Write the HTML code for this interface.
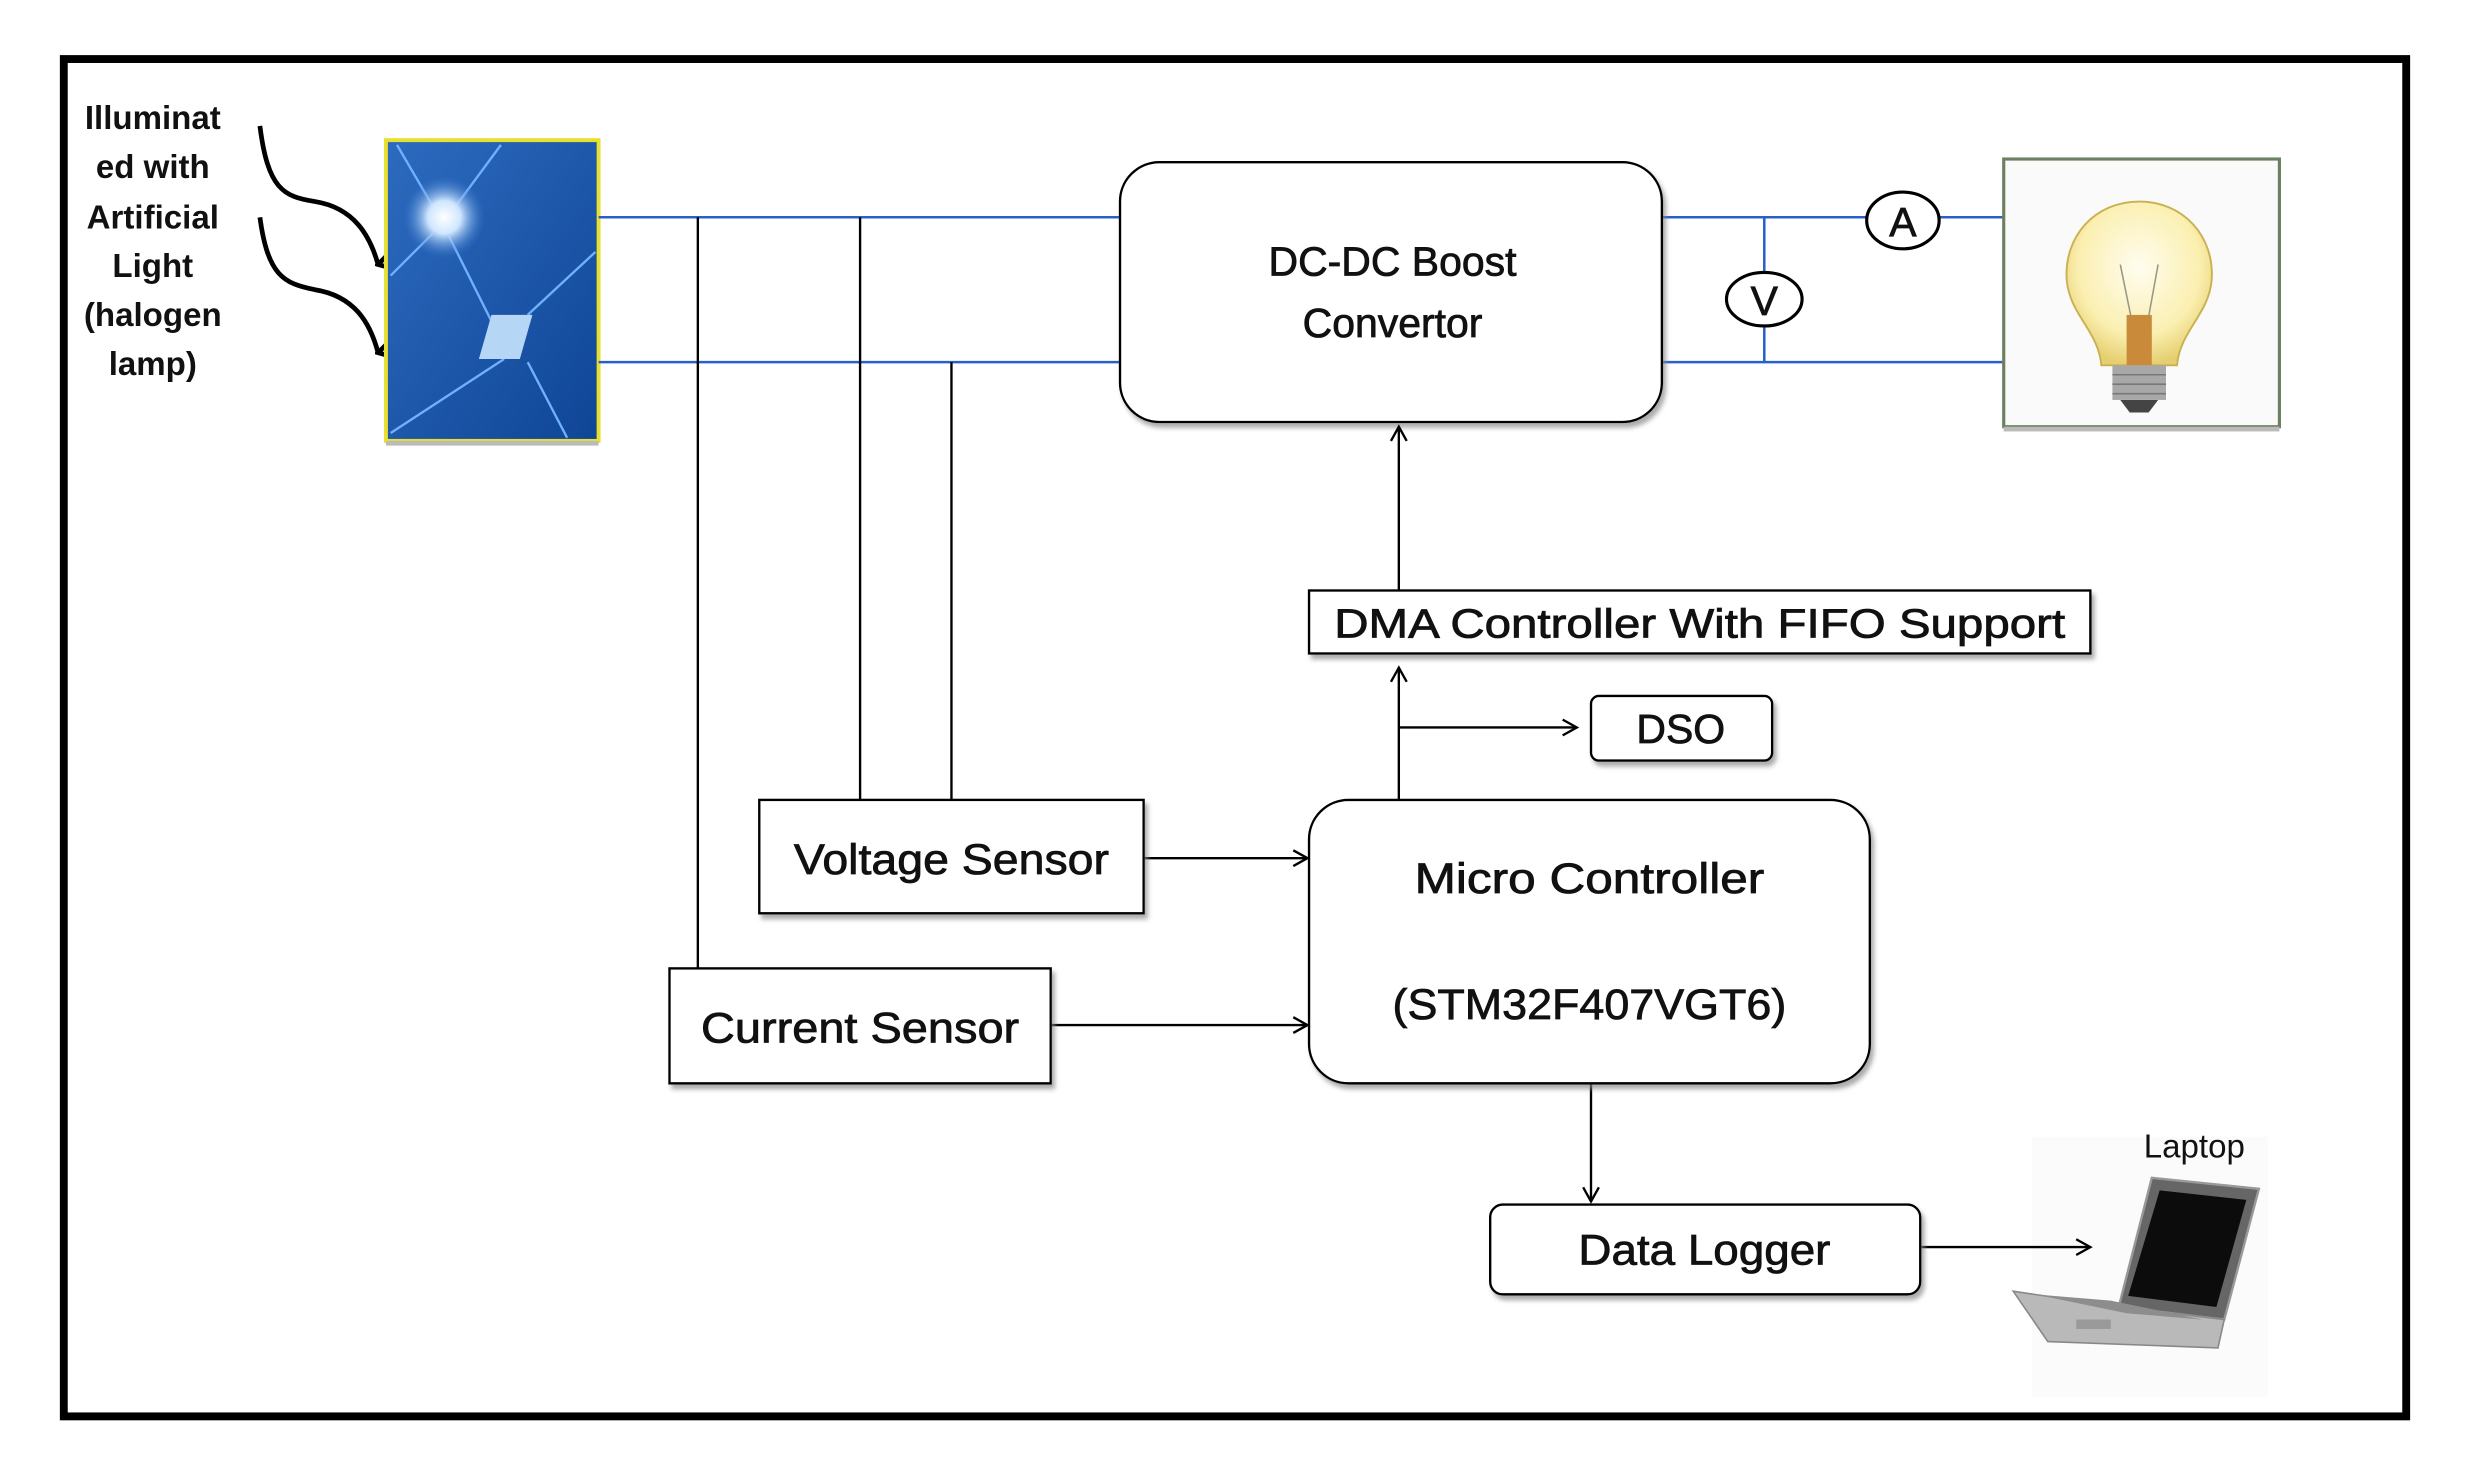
<!DOCTYPE html>
<html><head><meta charset="utf-8"><style>
html,body{margin:0;padding:0;background:#fff;}
svg{display:block;}
text{font-family:"Liberation Sans",sans-serif;fill:#111;}
.b{stroke:#111;stroke-width:0.5;}
</style></head><body>
<svg width="2470" height="1477" viewBox="0 0 1568 938" preserveAspectRatio="none" xmlns="http://www.w3.org/2000/svg">
<defs>
<marker id="ar" markerWidth="12" markerHeight="12" refX="10" refY="6" orient="auto" markerUnits="userSpaceOnUse">
<path d="M1,1 L10,6 L1,11" fill="none" stroke="#000" stroke-width="1.5"/>
</marker>
<marker id="ab" markerWidth="16" markerHeight="16" refX="8" refY="14" orient="auto" markerUnits="userSpaceOnUse">
<path d="M1,2 L8,14 L15,2" fill="none" stroke="#000" stroke-width="3"/>
</marker>
<linearGradient id="pv" x1="0" y1="0" x2="1" y2="1">
<stop offset="0" stop-color="#2d6bc0"/><stop offset="1" stop-color="#0f4595"/>
</linearGradient>
<radialGradient id="glow" cx="0.5" cy="0.5" r="0.5">
<stop offset="0" stop-color="#fff"/><stop offset="0.4" stop-color="#cfe6ff"/><stop offset="1" stop-color="#3f7fd0" stop-opacity="0"/>
</radialGradient>
<radialGradient id="bulb" cx="0.5" cy="0.4" r="0.6">
<stop offset="0" stop-color="#fffdf0"/><stop offset="0.7" stop-color="#fbefb0"/><stop offset="1" stop-color="#e6cf70"/>
</radialGradient>
<filter id="sh" x="-10%" y="-10%" width="130%" height="130%"><feDropShadow dx="2" dy="3" stdDeviation="1.5" flood-color="#888" flood-opacity="0.7"/></filter>
</defs>

<rect x="0" y="0" width="1568" height="938" fill="#fff"/>
<rect x="40.5" y="37.5" width="1487" height="862" fill="none" stroke="#000" stroke-width="5"/>

<g font-size="21" font-weight="bold" text-anchor="middle">
<text x="97" y="82">Illuminat</text>
<text x="97" y="113">ed with</text>
<text x="97" y="145">Artificial</text>
<text x="97" y="176">Light</text>
<text x="97" y="207">(halogen</text>
<text x="97" y="238">lamp)</text>
</g>
<path d="M165,80 C170,120 180,125 200,128 C225,132 235,150 240,168" fill="none" stroke="#000" stroke-width="3" marker-end="url(#ab)"/>
<path d="M165,138 C170,175 180,180 200,184 C225,188 235,205 240,224" fill="none" stroke="#000" stroke-width="3" marker-end="url(#ab)"/>

<rect x="245" y="89" width="135" height="191" fill="url(#pv)" stroke="#e8e030" stroke-width="2.5"/>
<rect x="245" y="280" width="135" height="3" fill="#bbb"/>
<g stroke="#6fb0ff" stroke-width="1.5" fill="none">
<line x1="252" y1="92" x2="280" y2="140"/><line x1="318" y1="92" x2="290" y2="130"/>
<line x1="248" y1="175" x2="275" y2="148"/><line x1="285" y1="150" x2="315" y2="210"/>
<line x1="335" y1="200" x2="378" y2="160"/><line x1="320" y1="228" x2="248" y2="275"/>
<line x1="335" y1="230" x2="360" y2="278"/>
</g>
<circle cx="282" cy="138" r="26" fill="url(#glow)"/>
<path d="M312,200 L338,200 L330,228 L304,228 Z" fill="#b6d6f5"/>

<g stroke="#2a5fc8" stroke-width="1.6">
<line x1="380" y1="138" x2="711" y2="138"/>
<line x1="380" y1="230" x2="711" y2="230"/>
<line x1="1055" y1="138" x2="1186" y2="138"/>
<line x1="1231" y1="138" x2="1272" y2="138"/>
<line x1="1055" y1="230" x2="1272" y2="230"/>
<line x1="1120" y1="138" x2="1120" y2="173"/>
<line x1="1120" y1="207" x2="1120" y2="230"/>
</g>

<g stroke="#000" stroke-width="1.5">
<line x1="443" y1="138" x2="443" y2="615"/>
<line x1="546" y1="138" x2="546" y2="508"/>
<line x1="604" y1="230" x2="604" y2="508"/>
</g>

<rect x="711" y="103" width="344" height="165" rx="25" fill="#fff" stroke="#000" stroke-width="1.5" filter="url(#sh)"/>
<g font-size="26" text-anchor="middle">
<text x="884" y="175" class="b">DC-DC Boost</text>
<text x="884" y="214" class="b">Convertor</text>
</g>

<ellipse cx="1208" cy="140" rx="23" ry="18" fill="#fff" stroke="#000" stroke-width="2"/>
<text x="1208" y="150" font-size="26" text-anchor="middle" class="b">A</text>
<ellipse cx="1120" cy="190" rx="24" ry="17" fill="#fff" stroke="#000" stroke-width="2"/>
<text x="1120" y="200" font-size="26" text-anchor="middle" class="b">V</text>

<rect x="1272" y="101" width="175" height="170" fill="#fafafa" stroke="#6a8060" stroke-width="2"/>
<rect x="1272" y="271" width="175" height="3" fill="#bbb"/>
<path d="M1358,128 C1330,128 1310,150 1312,178 C1314,200 1332,210 1334,232 L1382,232 C1384,210 1402,200 1404,178 C1406,150 1386,128 1358,128 Z" fill="url(#bulb)" stroke="#c9b050" stroke-width="1.2"/>
<path d="M1346,168 L1355,212 M1370,168 L1362,212" stroke="#998" stroke-width="1"/>
<rect x="1350" y="200" width="16" height="32" fill="#c98a3a"/>
<rect x="1341" y="232" width="34" height="22" fill="#a8a8a8"/>
<g stroke="#777" stroke-width="1"><line x1="1341" y1="238" x2="1375" y2="238"/><line x1="1341" y1="244" x2="1375" y2="244"/><line x1="1341" y1="250" x2="1375" y2="250"/></g>
<path d="M1346,254 L1370,254 L1364,262 L1352,262 Z" fill="#444"/>

<rect x="1290" y="722" width="150" height="165" fill="#fbfbfb"/>

<g stroke="#000" stroke-width="1.5" fill="none">
<line x1="888" y1="375" x2="888" y2="271" marker-end="url(#ar)"/>
<line x1="888" y1="508" x2="888" y2="424" marker-end="url(#ar)"/>
<line x1="888" y1="462" x2="1001" y2="462" marker-end="url(#ar)"/>
<line x1="726" y1="545" x2="830" y2="545" marker-end="url(#ar)"/>
<line x1="667" y1="651" x2="830" y2="651" marker-end="url(#ar)"/>
<line x1="1010" y1="688" x2="1010" y2="763" marker-end="url(#ar)"/>
<line x1="1219" y1="792" x2="1327" y2="792" marker-end="url(#ar)"/>
</g>

<rect x="831" y="375" width="496" height="40" fill="#fff" stroke="#000" stroke-width="1.5" filter="url(#sh)"/>
<text x="1079" y="405" font-size="26" text-anchor="middle" class="b" textLength="464" lengthAdjust="spacingAndGlyphs">DMA Controller With FIFO Support</text>

<rect x="1010" y="442" width="115" height="41" rx="5" fill="#fff" stroke="#000" stroke-width="1.5" filter="url(#sh)"/>
<text x="1067" y="472" font-size="26" text-anchor="middle" class="b">DSO</text>

<rect x="482" y="508" width="244" height="72" fill="#fff" stroke="#000" stroke-width="1.5" filter="url(#sh)"/>
<text x="604" y="555" font-size="27" text-anchor="middle" class="b" textLength="200" lengthAdjust="spacingAndGlyphs">Voltage Sensor</text>

<rect x="425" y="615" width="242" height="73" fill="#fff" stroke="#000" stroke-width="1.5" filter="url(#sh)"/>
<text x="546" y="662" font-size="27" text-anchor="middle" class="b" textLength="202" lengthAdjust="spacingAndGlyphs">Current Sensor</text>

<rect x="831" y="508" width="356" height="180" rx="25" fill="#fff" stroke="#000" stroke-width="1.5" filter="url(#sh)"/>
<text x="1009" y="567" font-size="27" text-anchor="middle" class="b" textLength="222" lengthAdjust="spacingAndGlyphs">Micro Controller</text>
<text x="1009" y="647" font-size="27" text-anchor="middle" class="b" textLength="250" lengthAdjust="spacingAndGlyphs">(STM32F407VGT6)</text>

<rect x="946" y="765" width="273" height="57" rx="8" fill="#fff" stroke="#000" stroke-width="1.5" filter="url(#sh)"/>
<text x="1082" y="803" font-size="27" text-anchor="middle" class="b" textLength="160" lengthAdjust="spacingAndGlyphs">Data Logger</text>

<text x="1393" y="735" font-size="21" text-anchor="middle">Laptop</text>
<path d="M1366,748 L1434,755 L1412,838 L1345,830 Z" fill="#666" stroke="#999" stroke-width="1.5"/>
<path d="M1371,756 L1426,762 L1407,830 L1351,823 Z" fill="#0c0c0c"/>
<path d="M1345,830 L1412,838 L1408,856 L1300,852 L1278,820 Z" fill="#b9b9b9" stroke="#888" stroke-width="1"/>
<path d="M1292,822 L1340,826 L1398,838 L1350,834 Z" fill="#8d8d8d"/>
<rect x="1318" y="838" width="22" height="6" fill="#9a9a9a"/>
</svg>
</body></html>
